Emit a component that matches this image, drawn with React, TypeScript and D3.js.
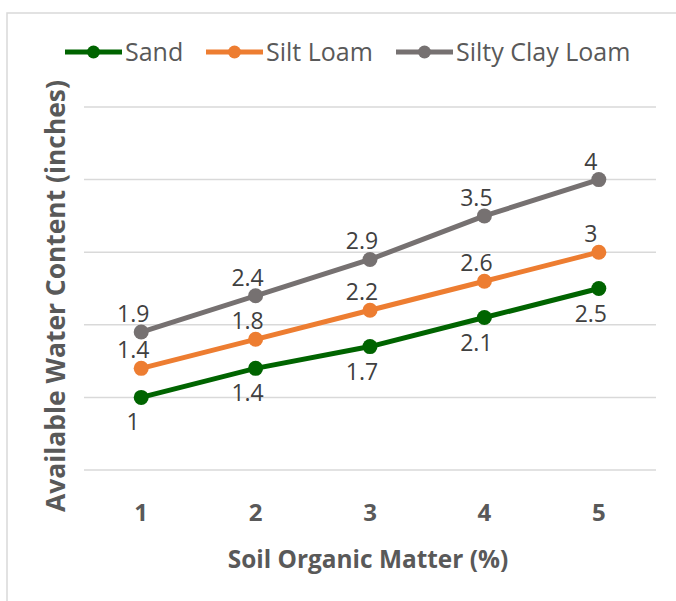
import React from 'react';
import * as d3 from 'd3';

const categories = [1, 2, 3, 4, 5];
const sand = [1, 1.4, 1.7, 2.1, 2.5];
const siltLoam = [1.4, 1.8, 2.2, 2.6, 3];
const siltyClayLoam = [1.9, 2.4, 2.9, 3.5, 4];
const yTicks = [0, 1, 2, 3, 4, 5];

const series = [
  { name: 'Sand', values: sand, color: '#006400', labelPos: 'below' },
  { name: 'Silt Loam', values: siltLoam, color: '#ED7D31', labelPos: 'above' },
  { name: 'Silty Clay Loam', values: siltyClayLoam, color: '#767171', labelPos: 'above' },
];

const legendX = [65, 206, 396];
const font = '"Open Sans", sans-serif';

export default function App() {
  const W = 676;
  const H = 601;
  const left = 84;
  const right = 656;
  const top = 107;
  const bottom = 470;

  const x = d3.scaleBand<number>().domain(categories).range([left, right]);
  const y = d3.scaleLinear().domain([0, 5]).range([bottom, top]);
  const cx = (c: number) => x(c)! + x.bandwidth() / 2;

  const line = d3
    .line<number>()
    .x((_, i) => cx(categories[i]))
    .y((d) => y(d));

  return (
    <div style={{ position: 'fixed', left: 0, top: 0 }}>
      <svg width={W} height={H} style={{ display: 'block', background: '#fff' }} fontFamily={font}>
        <rect x={7} y={13} width={W} height={H} fill="#fff" stroke="#d9d9d9" strokeWidth={1.5} />

        {/* gridlines */}
        {yTicks.map((t) => (
          <line key={t} x1={left} x2={right} y1={y(t)} y2={y(t)} stroke="#d9d9d9" strokeWidth={1.5} />
        ))}

        {/* x tick labels */}
        {categories.map((c) => (
          <text key={c} x={cx(c)} y={521} textAnchor="middle" fontSize={24} fontWeight="bold" fill="#595959">
            {c}
          </text>
        ))}

        {/* axis titles */}
        <text x={368} y={568} textAnchor="middle" fontSize={24.4} fontWeight="bold" fill="#595959">
          Soil Organic Matter (%)
        </text>
        <text
          transform="translate(65,296) rotate(-90)"
          textAnchor="middle"
          fontSize={26.4}
          fontWeight="bold"
          fill="#595959"
        >
          Available Water Content (inches)
        </text>

        {/* series */}
        {series.map((s) => (
          <g key={s.name}>
            <path d={line(s.values)!} fill="none" stroke={s.color} strokeWidth={5} strokeLinejoin="round" />
            {s.values.map((v, i) => (
              <circle key={i} cx={cx(categories[i])} cy={y(v)} r={7.5} fill={s.color} />
            ))}
            {s.values.map((v, i) => (
              <text
                key={'l' + i}
                x={cx(categories[i]) - 8}
                y={s.labelPos === 'above' ? y(v) - 10 : y(v) + 33}
                textAnchor="middle"
                fontSize={23}
                fill="#404040"
              >
                {v}
              </text>
            ))}
          </g>
        ))}

        {/* legend */}
        {series.map((s, i) => (
          <g key={'lg' + s.name} transform={`translate(${legendX[i]},52)`}>
            <line x1={0} x2={57} y1={0} y2={0} stroke={s.color} strokeWidth={5} />
            <circle cx={28.5} cy={0} r={6.5} fill={s.color} />
            <text x={60} y={9} fontSize={25} fill="#595959">
              {s.name}
            </text>
          </g>
        ))}
      </svg>
    </div>
  );
}
